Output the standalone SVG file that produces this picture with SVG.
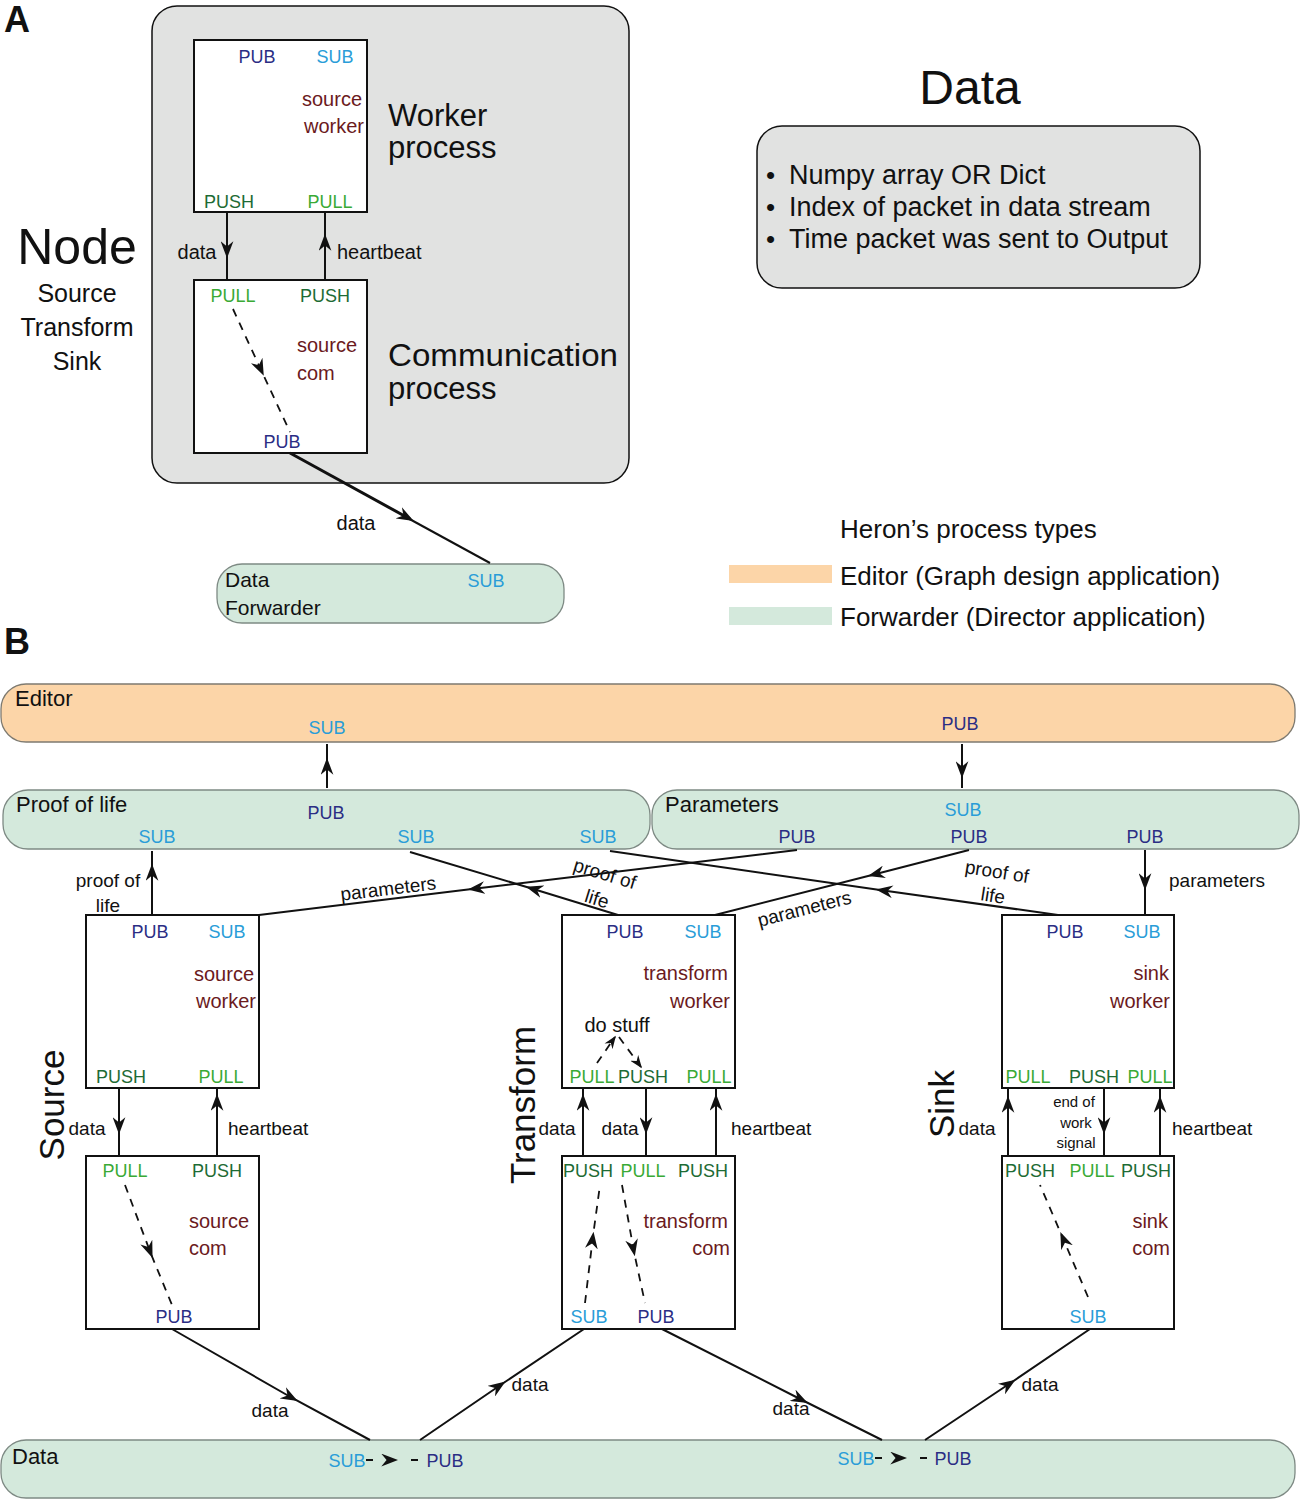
<svg xmlns="http://www.w3.org/2000/svg" width="1300" height="1500" viewBox="0 0 1300 1500">
<defs>
<style>
text{font-family:"Liberation Sans",Arial,sans-serif;fill:#111}
.pub{fill:#2b2d84}
.sub{fill:#2a9dd8}
.push{fill:#1d6b34}
.pull{fill:#3aaa35}
.red{fill:#6b1a1d}
.p{font-size:18px;text-anchor:middle}
.r{font-size:20px;text-anchor:end}
.l{font-size:20px}
.c{text-anchor:middle}
.box{fill:#fff;stroke:#111;stroke-width:2}
.fwd{fill:#d4e9dc;stroke:#7e8a84;stroke-width:1.3}
.edt{fill:#fcd5a8;stroke:#7e7a70;stroke-width:1.3}
.grey{fill:#e1e2e1;stroke:#111;stroke-width:1.5}
.cn{fill:none;stroke:#111;stroke-width:2;marker-mid:url(#ah)}
.ds{fill:none;stroke:#111;stroke-width:1.8;stroke-dasharray:8,7}
</style>
<marker id="ah" viewBox="0 0 16 12" refX="12" refY="6" markerWidth="17" markerHeight="13" markerUnits="userSpaceOnUse" orient="auto"><path d="M0,0 L16,6 L0,12 L5,6 z" fill="#111"/></marker>
<marker id="ahs" viewBox="0 0 16 12" refX="14" refY="6" markerWidth="13" markerHeight="10" markerUnits="userSpaceOnUse" orient="auto"><path d="M0,0 L16,6 L0,12 L5,6 z" fill="#111"/></marker>
</defs>

<!-- Panel A -->
<text x="4" y="32" font-size="36" font-weight="bold">A</text>
<g id="nodeA">
<rect class="grey" x="152" y="6" width="477" height="477" rx="25"/>
<text x="388" y="126" font-size="31">Worker</text>
<text x="388" y="158" font-size="31">process</text>
<text x="388" y="366" font-size="32" textLength="230" lengthAdjust="spacingAndGlyphs">Communication</text>
<text x="388" y="399" font-size="31">process</text>
</g>
<g id="workerA">
<rect class="box" x="194" y="40" width="173" height="172"/>
<text class="p pub" x="257" y="63">PUB</text>
<text class="p sub" x="335" y="63">SUB</text>
<text class="r red" x="362" y="106">source</text>
<text class="r red" x="364" y="133">worker</text>
<text class="p push" x="229" y="208">PUSH</text>
<text class="p pull" x="330" y="208">PULL</text>
</g>
<g id="comA">
<rect class="box" x="194" y="280" width="173" height="173"/>
<text class="p pull" x="233" y="302">PULL</text>
<text class="p push" x="325" y="302">PUSH</text>
<text class="l red" x="297" y="352">source</text>
<text class="l red" x="297" y="380">com</text>
<text class="p pub" x="282" y="448">PUB</text>
</g>
<g id="fwdA">
<rect class="fwd" x="217" y="564" width="347" height="59" rx="25"/>
<text x="225" y="587" font-size="21">Data</text>
<text x="225" y="615" font-size="21">Forwarder</text>
<text class="p sub" x="486" y="587">SUB</text>
</g>
<g id="nodeTypes">
<text class="c" x="77" y="264" font-size="50">Node</text>
<text class="c" x="77" y="302" font-size="25">Source</text>
<text class="c" x="77" y="336" font-size="25">Transform</text>
<text class="c" x="77" y="370" font-size="25">Sink</text>
</g>
<g id="dataDesc">
<text class="c" x="970" y="104" font-size="48">Data</text>
<rect class="grey" x="757" y="126" width="443" height="162" rx="25"/>
<text x="766" y="184" font-size="26">•</text>
<text x="789" y="184" font-size="27">Numpy array OR Dict</text>
<text x="766" y="216" font-size="26">•</text>
<text x="789" y="216" font-size="27">Index of packet in data stream</text>
<text x="766" y="248" font-size="26">•</text>
<text x="789" y="248" font-size="27">Time packet was sent to Output</text>
</g>
<g id="legend">
<text x="840" y="538" font-size="26">Heron’s process types</text>
<rect x="729" y="565" width="103" height="18" fill="#fcd5a8"/>
<text x="840" y="585" font-size="26">Editor (Graph design application)</text>
<rect x="729" y="607" width="103" height="18" fill="#d4e9dc"/>
<text x="840" y="626" font-size="26">Forwarder (Director application)</text>
</g>

<!-- Panel B -->
<text x="4" y="654" font-size="36" font-weight="bold">B</text>
<g id="editor">
<rect class="edt" x="1" y="684" width="1294" height="58" rx="25"/>
<text x="15" y="706" font-size="22">Editor</text>
<text class="p sub" x="327" y="734">SUB</text>
<text class="p pub" x="960" y="730">PUB</text>
</g>
<g id="proofOfLife">
<rect class="fwd" x="3" y="790" width="647" height="59" rx="25"/>
<text x="16" y="812" font-size="22">Proof of life</text>
<text class="p pub" x="326" y="819">PUB</text>
<text class="p sub" x="157" y="843">SUB</text>
<text class="p sub" x="416" y="843">SUB</text>
<text class="p sub" x="598" y="843">SUB</text>
</g>
<g id="parameters">
<rect class="fwd" x="652" y="790" width="647" height="59" rx="25"/>
<text x="665" y="812" font-size="22">Parameters</text>
<text class="p sub" x="963" y="816">SUB</text>
<text class="p pub" x="797" y="843">PUB</text>
<text class="p pub" x="969" y="843">PUB</text>
<text class="p pub" x="1145" y="843">PUB</text>
</g>
<g id="dataFwd">
<rect class="fwd" x="1" y="1440" width="1294" height="58" rx="25"/>
<text x="12" y="1464" font-size="22">Data</text>
<text class="p sub" x="347" y="1467">SUB</text>
<text class="p pub" x="445" y="1467">PUB</text>
<text class="p sub" x="856" y="1465">SUB</text>
<text class="p pub" x="953" y="1465">PUB</text>
</g>

<g id="sourceWorker">
<rect class="box" x="86" y="915" width="173" height="173"/>
<text class="p pub" x="150" y="938">PUB</text>
<text class="p sub" x="227" y="938">SUB</text>
<text class="r red" x="254" y="981">source</text>
<text class="r red" x="256" y="1008">worker</text>
<text class="p push" x="121" y="1083">PUSH</text>
<text class="p pull" x="221" y="1083">PULL</text>
</g>
<g id="sourceCom">
<rect class="box" x="86" y="1156" width="173" height="173"/>
<text class="p pull" x="125" y="1177">PULL</text>
<text class="p push" x="217" y="1177">PUSH</text>
<text class="l red" x="189" y="1228">source</text>
<text class="l red" x="189" y="1255">com</text>
<text class="p pub" x="174" y="1323">PUB</text>
</g>
<g id="transformWorker">
<rect class="box" x="562" y="915" width="173" height="173"/>
<text class="p pub" x="625" y="938">PUB</text>
<text class="p sub" x="703" y="938">SUB</text>
<text class="r red" x="728" y="980">transform</text>
<text class="r red" x="730" y="1008">worker</text>
<text class="c" x="617" y="1032" font-size="20">do stuff</text>
<text class="p pull" x="592" y="1083">PULL</text>
<text class="p push" x="643" y="1083">PUSH</text>
<text class="p pull" x="709" y="1083">PULL</text>
</g>
<g id="transformCom">
<rect class="box" x="562" y="1156" width="173" height="173"/>
<text class="p push" x="588" y="1177">PUSH</text>
<text class="p pull" x="643" y="1177">PULL</text>
<text class="p push" x="703" y="1177">PUSH</text>
<text class="r red" x="728" y="1228">transform</text>
<text class="r red" x="730" y="1255">com</text>
<text class="p sub" x="589" y="1323">SUB</text>
<text class="p pub" x="656" y="1323">PUB</text>
</g>
<g id="sinkWorker">
<rect class="box" x="1002" y="915" width="172" height="173"/>
<text class="p pub" x="1065" y="938">PUB</text>
<text class="p sub" x="1142" y="938">SUB</text>
<text class="r red" x="1169" y="980">sink</text>
<text class="r red" x="1170" y="1008">worker</text>
<text class="p pull" x="1028" y="1083">PULL</text>
<text class="p push" x="1094" y="1083">PUSH</text>
<text class="p pull" x="1150" y="1083">PULL</text>
</g>
<g id="sinkCom">
<rect class="box" x="1002" y="1156" width="172" height="173"/>
<text class="p push" x="1030" y="1177">PUSH</text>
<text class="p pull" x="1092" y="1177">PULL</text>
<text class="p push" x="1146" y="1177">PUSH</text>
<text class="r red" x="1168" y="1228">sink</text>
<text class="r red" x="1170" y="1255">com</text>
<text class="p sub" x="1088" y="1323">SUB</text>
</g>
<g id="sideLabels">
<text class="c" font-size="35" transform="translate(64,1105) rotate(-90)">Source</text>
<text class="c" font-size="35" transform="translate(535,1105) rotate(-90)">Transform</text>
<text class="c" font-size="35" transform="translate(954,1104) rotate(-90)">Sink</text>
</g>

<g id="connectors">
<!-- Panel A -->
<path class="cn" d="M227,213 L227,254 L227,280"/>
<path class="cn" d="M325,280 L325,238 L325,213"/>
<path class="ds" d="M233,309 L262,372 L290,432" style="marker-mid:url(#ah)"/>
<path d="M290,453 L410,519" fill="none" stroke="#111" stroke-width="3" marker-end="url(#ah)"/>
<path d="M404,516 L490,563" fill="none" stroke="#111" stroke-width="2"/>
<!-- Editor links -->
<path class="cn" d="M327,788 L327,762 L327,744"/>
<path class="cn" d="M962,744 L962,774 L962,788"/>
<!-- source proof of life -->
<path class="cn" d="M152,915 L152,868 L152,851"/>
<!-- parameters to source -->
<path class="cn" d="M797,850 L472,889 L259,915"/>
<!-- transform proof of life -->
<path class="cn" d="M618,915 L530,888 L410,852"/>
<!-- sink proof of life -->
<path class="cn" d="M1058,915 L880,890 L610,851"/>
<!-- parameters to transform -->
<path class="cn" d="M969,850 L872,875 L715,915"/>
<!-- parameters to sink -->
<path class="cn" d="M1145,850 L1145,886 L1145,915"/>
<!-- source worker/com -->
<path class="cn" d="M119,1088 L119,1130 L119,1156"/>
<path class="cn" d="M217,1156 L217,1098 L217,1088"/>
<path class="ds" d="M125,1185 L151,1254 L172,1305" style="marker-mid:url(#ah)"/>
<!-- transform worker/com -->
<path class="cn" d="M583,1156 L583,1098 L583,1088"/>
<path class="cn" d="M646,1088 L646,1130 L646,1156"/>
<path class="cn" d="M716,1156 L716,1098 L716,1088"/>
<path class="ds" d="M597,1063 L615,1037" marker-end="url(#ahs)"/>
<path class="ds" d="M619,1037 L641,1067" marker-end="url(#ahs)"/>
<path class="ds" d="M585,1303 L593,1236 L600,1185" style="marker-mid:url(#ah)"/>
<path class="ds" d="M622,1185 L634,1252 L645,1303" style="marker-mid:url(#ah)"/>
<!-- sink worker/com -->
<path class="cn" d="M1008,1156 L1008,1100 L1008,1088"/>
<path class="cn" d="M1104,1088 L1104,1130 L1104,1156"/>
<path class="cn" d="M1160,1156 L1160,1100 L1160,1088"/>
<path class="ds" d="M1088,1297 L1062,1236 L1040,1185" style="marker-mid:url(#ah)"/>
<!-- data forwarder links -->
<path class="cn" d="M172,1329 L294,1399 L370,1440"/>
<path class="cn" d="M420,1440 L502,1384 L584,1329"/>
<path class="cn" d="M662,1329 L804,1401 L882,1440"/>
<path class="cn" d="M925,1440 L1012,1382 L1090,1329"/>
<!-- inside data forwarder -->
<path d="M366,1460 L394,1460" fill="none" stroke="#111" stroke-width="2" stroke-dasharray="7,100" marker-end="url(#ah)"/>
<line x1="411" y1="1460" x2="418" y2="1460" stroke="#111" stroke-width="2"/>
<path d="M875,1458 L903,1458" fill="none" stroke="#111" stroke-width="2" stroke-dasharray="7,100" marker-end="url(#ah)"/>
<line x1="920" y1="1458" x2="927" y2="1458" stroke="#111" stroke-width="2"/>
</g>

<g id="connectorLabels">
<text class="c" x="197" y="259" font-size="20">data</text>
<text x="337" y="259" font-size="20">heartbeat</text>
<text class="c" x="356" y="530" font-size="20">data</text>
<text class="c" x="108" y="887" font-size="19">proof of</text>
<text class="c" x="108" y="912" font-size="19">life</text>
<text class="c" font-size="19" transform="translate(389,895) rotate(-6.9)">parameters</text>
<text class="c" font-size="19" transform="translate(603,880) rotate(17)">proof of</text>
<text class="c" font-size="19" transform="translate(595,905) rotate(17)">life</text>
<text class="c" font-size="19" transform="translate(996,878) rotate(9)">proof of</text>
<text class="c" font-size="19" transform="translate(992,902) rotate(9)">life</text>
<text class="c" font-size="19" transform="translate(806,915) rotate(-14.4)">parameters</text>
<text x="1169" y="887" font-size="19">parameters</text>
<text class="c" x="87" y="1135" font-size="19">data</text>
<text x="228" y="1135" font-size="19">heartbeat</text>
<text class="c" x="557" y="1135" font-size="19">data</text>
<text class="c" x="620" y="1135" font-size="19">data</text>
<text x="731" y="1135" font-size="19">heartbeat</text>
<text class="c" x="977" y="1135" font-size="19">data</text>
<text class="c" x="1074" y="1107" font-size="15">end of</text>
<text class="c" x="1076" y="1128" font-size="15">work</text>
<text class="c" x="1076" y="1148" font-size="15">signal</text>
<text x="1172" y="1135" font-size="19">heartbeat</text>
<text class="c" x="270" y="1417" font-size="19">data</text>
<text class="c" x="530" y="1391" font-size="19">data</text>
<text class="c" x="791" y="1415" font-size="19">data</text>
<text class="c" x="1040" y="1391" font-size="19">data</text>
</g>
</svg>
